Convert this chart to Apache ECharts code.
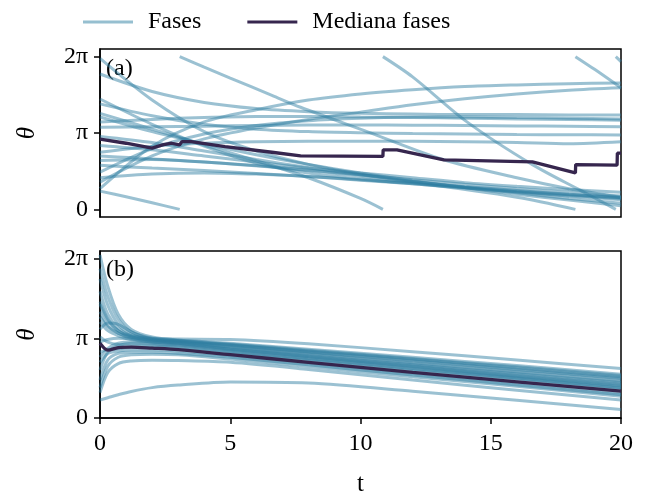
<!DOCTYPE html>
<html>
<head>
<meta charset="utf-8">
<script src="https://cdn.jsdelivr.net/npm/echarts@6.0.0/dist/echarts.min.js"></script>
<style>
  html, body { margin: 0; padding: 0; background: #fff; }
  #chart { width: 646px; height: 495px; }
</style>
</head>
<body>
<div id="chart"></div>
<script>
const PI = Math.PI;

// ---- panel (a): fases sin sincronizar (mod 2pi) ----
const tA = [0, 2, 4, 6, 8, 10, 12, 14, 16, 18, 20];
const fasesA = [
  [0.85, 2.6, 3.6, 4.1, 4.5, 4.75, 4.92, 5.05, 5.12, 5.17, 5.2],
  [1.12, 2.2, 2.9, 3.35, 3.7, 4.0, 4.3, 4.55, 4.75, 4.9, 5.0],
  [5.57, 4.85, 4.4, 4.15, 4.02, 3.95, 3.92, 3.9, 3.9, 3.88, 3.88],
  [3.59, 3.7, 3.78, 3.82, 3.82, 3.8, 3.78, 3.75, 3.72, 3.7, 3.67],
  [1.53, 2.5, 3.1, 3.45, 3.65, 3.75, 3.8, 3.8, 3.78, 3.75, 3.72],
  [3.38, 3.4, 3.42, 3.45, 3.47, 3.47, 3.46, 3.45, 3.43, 3.42, 3.4],
  [4.34, 3.85, 3.5, 3.3, 3.2, 3.15, 3.12, 3.1, 3.08, 3.07, 3.06],
  [2.35, 2.6, 2.72, 2.78, 2.8, 2.8, 2.8, 2.78, 2.75, 2.7, 2.78],
  [6.21, 4.5, 3.2, 2.4, 1.85, 1.45, 1.15, 0.92, 0.72, 0.55, 0.4],
  [4.54, 3.5, 2.6, 1.9, 1.5, 1.25, 1.05, 0.88, 0.72, 0.58, 0.45],
  [2.63, 2.45, 2.2, 1.95, 1.7, 1.5, 1.3, 1.1, 0.95, 0.82, 0.7],
  [2.01, 2.05, 1.95, 1.8, 1.62, 1.42, 1.22, 1.03, 0.86, 0.7, 0.55],
  [1.81, 1.7, 1.6, 1.48, 1.35, 1.2, 1.05, 0.9, 0.75, 0.6, 0.48],
  [3.0, 2.75, 2.4, 2.05, 1.72, 1.42, 1.15, 0.9, 0.68, 0.45, 0.25],
  [1.3, 1.45, 1.5, 1.45, 1.35, 1.22, 1.08, 0.93, 0.78, 0.62, 0.5],
  [3.8, 3.2, 2.7, 2.25, 1.85, 1.5, 1.18, 0.9, 0.62, 0.38, 0.15]
];
// tramos que cruzan 0 -> 2pi
const tramosA = [
  [[0, 0.75], [1, 0.52], [2, 0.27], [3.06, 0]],
  [[3.06, 6.283], [4, 5.85], [5, 5.4], [6.6, 4.69], [7.7, 4.2], [10.3, 3.18], [13.2, 2.04], [16, 1.3], [18, 0.85], [20, 0.5]],
  [[0, 3.95], [2, 3.3], [4, 2.65], [6, 2.0], [8, 1.3], [10, 0.45], [10.86, 0]],
  [[10.86, 6.283], [12, 5.45], [14.1, 3.59], [16.6, 1.84], [18.5, 0.75], [19.8, 0]],
  [[19.8, 6.283], [20, 6.08]],
  [[0, 2.2], [4, 1.95], [8, 1.6], [12, 1.1], [16, 0.5], [18.25, 0]],
  [[18.25, 6.283], [19, 5.75], [20, 5.0]]
];
const medianaA = [
  [0, 2.89], [1, 2.72], [2, 2.52], [2.4, 2.65], [2.75, 2.72], [3.05, 2.65], [3.15, 2.79],
  [3.5, 2.79], [4.8, 2.58], [6.6, 2.35], [7.7, 2.2], [10.86, 2.18], [10.87, 2.45],
  [11.4, 2.45], [13.2, 2.04], [16.6, 1.95], [18.25, 1.5], [18.26, 1.84], [19.85, 1.82],
  [19.86, 2.31], [20, 2.31]
];

// ---- panel (b): fases que se sincronizan ----
const tB = [0, 0.3, 0.7, 1.2, 2, 3, 5, 8, 12, 16, 20];
const fasesB = [
  [4.6, 3.9, 3.45, 3.25, 3.15, 3.12, 3.1, 2.93, 2.62, 2.29, 1.96],
  [0.71, 0.8, 0.92, 1.05, 1.2, 1.3, 1.42, 1.38, 1.06, 0.7, 0.34],
  [1.0, 1.8, 2.15, 2.25, 2.28, 2.27, 2.2, 1.92, 1.5, 1.1, 0.71],
  [1.5, 2.3, 2.55, 2.6, 2.6, 2.55, 2.4, 2.1, 1.7, 1.3, 0.92],
  [2.2, 2.55, 2.65, 2.7, 2.7, 2.65, 2.45, 2.15, 1.75, 1.37, 0.98],
  [2.6, 2.7, 2.75, 2.8, 2.8, 2.75, 2.55, 2.27, 1.88, 1.5, 1.13],
  [3.2, 3.0, 2.9, 2.88, 2.85, 2.8, 2.6, 2.3, 1.92, 1.55, 1.18],
  [3.5, 3.75, 3.7, 3.4, 3.1, 2.95, 2.72, 2.42, 2.03, 1.65, 1.28],
  [3.8, 3.45, 3.25, 3.1, 3.0, 2.95, 2.76, 2.47, 2.1, 1.74, 1.38],
  [4.2, 3.65, 3.35, 3.15, 3.05, 3.0, 2.82, 2.55, 2.18, 1.83, 1.48],
  [4.5, 3.85, 3.45, 3.2, 3.08, 3.02, 2.86, 2.6, 2.25, 1.9, 1.55],
  [5.0, 4.1, 3.55, 3.25, 3.1, 3.04, 2.9, 2.65, 2.32, 1.98, 1.63],
  [5.5, 4.45, 3.7, 3.3, 3.12, 3.06, 2.92, 2.68, 2.35, 2.02, 1.68],
  [6.44, 5.2, 4.1, 3.5, 3.2, 3.08, 2.95, 2.72, 2.4, 2.07, 1.73],
  [5.9, 4.8, 3.9, 3.4, 3.15, 3.05, 2.88, 2.62, 2.28, 1.93, 1.59],
  [2.4, 2.75, 2.95, 3.0, 2.95, 2.88, 2.68, 2.38, 2.0, 1.62, 1.25],
  [1.9, 2.6, 2.85, 2.95, 2.92, 2.85, 2.64, 2.34, 1.96, 1.58, 1.2],
  [3.0, 3.1, 3.15, 3.12, 3.0, 2.92, 2.72, 2.43, 2.05, 1.68, 1.32],
  [4.0, 3.6, 3.35, 3.2, 3.05, 2.98, 2.8, 2.52, 2.14, 1.78, 1.42],
  [1.2, 2.05, 2.4, 2.5, 2.52, 2.5, 2.33, 2.03, 1.63, 1.25, 0.86]
];
const medianaB = [2.95, 2.68, 2.78, 2.8, 2.76, 2.7, 2.5, 2.2, 1.8, 1.43, 1.06];

const ticksT = [0, 5, 10, 15, 20];
const ticksTheta = [0, PI, 2 * PI];
const labelsTheta = ['0', 'π', '2π'];

const font = 'Liberation Serif, DejaVu Serif, serif';
const faseColor = '#2e7ea0';
const medColor = '#36264e';

const zip = (ts, ys) => ts.map((t, i) => [t, ys[i]]);

function faseSerie(data, k) {
  return {
    name: 'Fases', type: 'line', xAxisIndex: k, yAxisIndex: k,
    data: data, showSymbol: false, smooth: 0.3, silent: true,
    lineStyle: { color: faseColor, width: 3, opacity: 0.48 },
    itemStyle: { color: faseColor }, z: 2
  };
}
function medSerie(data, k, smooth) {
  return {
    name: 'Mediana fases', type: 'line', xAxisIndex: k, yAxisIndex: k,
    data: data, showSymbol: false, smooth: smooth, silent: true,
    lineStyle: { color: medColor, width: 3.3 },
    itemStyle: { color: medColor }, z: 5
  };
}

const series = [];
fasesA.forEach(f => series.push(faseSerie(zip(tA, f), 0)));
tramosA.forEach(s => series.push(faseSerie(s, 0)));
series.push(medSerie(medianaA, 0, false));
fasesB.forEach(f => series.push(faseSerie(zip(tB, f), 1)));
series.push(medSerie(zip(tB, medianaB), 1, 0.3));

const yAxisBase = (k, min) => ({
  gridIndex: k, type: 'value', min: min, max: 6.597,
  name: 'θ', nameLocation: 'middle', nameGap: 60, nameRotate: 90,
  nameTextStyle: { fontFamily: font, fontSize: 25, fontStyle: 'italic', color: '#000' },
  splitLine: { show: false },
  axisLine: { show: true, lineStyle: { color: '#000', width: 1.5 } },
  axisTick: { show: true, length: 6, customValues: ticksTheta, lineStyle: { color: '#000', width: 1.5 } },
  axisLabel: {
    customValues: ticksTheta, margin: 12, color: '#000', fontFamily: font, fontSize: 24,
    formatter: v => labelsTheta[ticksTheta.findIndex(x => Math.abs(x - v) < 1e-6)]
  }
});

const option = {
  animation: false,
  backgroundColor: '#fff',
  legend: {
    top: 5, left: 78, itemWidth: 50, itemHeight: 3, itemGap: 46, icon: 'rect',
    data: [
      { name: 'Fases', itemStyle: { color: '#96bfd0' } },
      { name: 'Mediana fases', itemStyle: { color: medColor } }
    ],
    textStyle: { fontFamily: font, fontSize: 24, color: '#000', padding: [0, 0, 0, 10] }
  },
  grid: [
    { left: 100, right: 25, top: 49, height: 168, outerBoundsMode: 'none', show: true, borderColor: '#000', borderWidth: 1.5 },
    { left: 100, right: 25, top: 251, height: 167, outerBoundsMode: 'none', show: true, borderColor: '#000', borderWidth: 1.5 }
  ],
  xAxis: [
    {
      gridIndex: 0, type: 'value', min: 0, max: 20,
      splitLine: { show: false }, axisLine: { show: false },
      axisTick: { show: false }, axisLabel: { show: false }
    },
    {
      gridIndex: 1, type: 'value', min: 0, max: 20, interval: 5,
      name: 't', nameLocation: 'middle', nameGap: 54,
      nameTextStyle: { fontFamily: font, fontSize: 25, color: '#000' },
      splitLine: { show: false },
      axisLine: { show: true, lineStyle: { color: '#000', width: 1.5 } },
      axisTick: { show: true, length: 6, customValues: ticksT, lineStyle: { color: '#000', width: 1.5 } },
      axisLabel: { customValues: ticksT, margin: 14, color: '#000', fontFamily: font, fontSize: 24 }
    }
  ],
  yAxis: [yAxisBase(0, -0.314), yAxisBase(1, 0)],
  graphic: [
    { type: 'text', left: 106, top: 57, style: { text: '(a)', font: '24px ' + font, fill: '#000' } },
    { type: 'text', left: 106, top: 258, style: { text: '(b)', font: '24px ' + font, fill: '#000' } }
  ],
  series: series
};

const chart = echarts.init(document.getElementById('chart'));
chart.setOption(option);
</script>
</body>
</html>
